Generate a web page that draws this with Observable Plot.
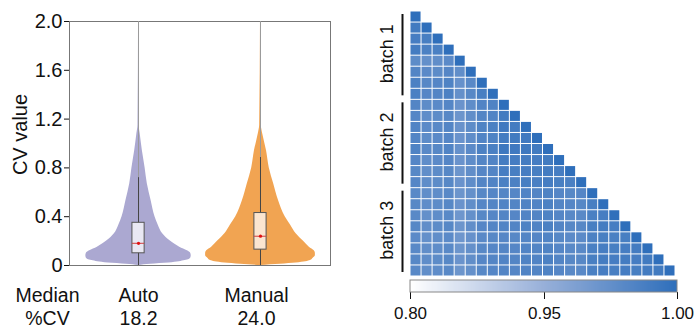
<!DOCTYPE html>
<html><head><meta charset="utf-8">
<script src="https://cdn.jsdelivr.net/npm/d3@7"></script>
<script src="https://cdn.jsdelivr.net/npm/@observablehq/plot@0.6"></script>
<style>
body{margin:0;background:#fff;}
#wrap{position:relative;width:698px;height:328px;overflow:hidden;font-family:"Liberation Sans",Arial,Helvetica,sans-serif;}
#wrap svg{position:absolute;overflow:visible;}
</style></head><body><div id="wrap"></div>
<script>
// ---------- Left panel: violin plots ----------
const groups = ["Auto", "Manual"];
const medianCV = ["18.2", "24.0"];
const cvGrid        = [0, 0.01, 0.02, 0.04, 0.06, 0.08, 0.10, 0.12, 0.15, 0.20, 0.26, 0.33, 0.40, 0.53, 0.67, 0.80, 0.94, 1.08, 1.15, 2.0];
const densityAuto   = [0, 0.22, 0.55, 0.85, 0.95, 0.96, 0.95, 0.89, 0.75, 0.58, 0.44, 0.36, 0.30, 0.23, 0.16, 0.12, 0.07, 0.03, 0.01, 0];
const densityManual = [0, 0.36, 0.65, 0.91, 0.96, 1.00, 1.00, 0.98, 0.89, 0.78, 0.65, 0.55, 0.45, 0.33, 0.24, 0.16, 0.11, 0.04, 0.015, 0];
const q1 = [0.10, 0.13];
const medians = [0.182, 0.24];
const q3 = [0.35, 0.43];
const whiskerLow = [0, 0];
const whiskerHigh = [0.72, 0.885];
const yMax = [2.0, 2.0];
const yTicks = [0, 0.4, 0.8, 1.2, 1.6, 2.0];

// ---------- Right panel: correlation heatmap ----------
const batchNames = ["batch 1", "batch 2", "batch 3"];
const batchStart = [0, 8, 16];
const batchEnd = [8, 16, 24];
const corr = [
 [1],
 [0.991, 1],
 [0.989, 0.988, 1],
 [0.990, 0.986, 0.987, 1],
 [0.978, 0.975, 0.976, 0.979, 1],
 [0.983, 0.979, 0.978, 0.982, 0.976, 1],
 [0.986, 0.981, 0.982, 0.985, 0.974, 0.980, 1],
 [0.987, 0.982, 0.983, 0.986, 0.975, 0.981, 0.988, 1],
 [0.983, 0.978, 0.979, 0.982, 0.972, 0.977, 0.984, 0.985, 1],
 [0.982, 0.977, 0.978, 0.981, 0.971, 0.976, 0.983, 0.984, 0.991, 1],
 [0.984, 0.979, 0.980, 0.983, 0.973, 0.978, 0.985, 0.986, 0.992, 0.990, 1],
 [0.983, 0.978, 0.979, 0.982, 0.972, 0.977, 0.984, 0.985, 0.990, 0.991, 0.992, 1],
 [0.985, 0.980, 0.981, 0.984, 0.974, 0.979, 0.986, 0.987, 0.993, 0.992, 0.993, 0.991, 1],
 [0.982, 0.977, 0.979, 0.982, 0.972, 0.977, 0.983, 0.984, 0.990, 0.989, 0.990, 0.989, 0.991, 1],
 [0.981, 0.976, 0.978, 0.981, 0.971, 0.976, 0.982, 0.983, 0.989, 0.988, 0.989, 0.988, 0.990, 0.989, 1],
 [0.982, 0.977, 0.978, 0.981, 0.972, 0.977, 0.983, 0.984, 0.987, 0.986, 0.988, 0.987, 0.989, 0.988, 0.987, 1],
 [0.980, 0.976, 0.977, 0.980, 0.971, 0.975, 0.981, 0.982, 0.983, 0.982, 0.984, 0.983, 0.985, 0.982, 0.981, 0.982, 1],
 [0.981, 0.977, 0.978, 0.981, 0.972, 0.976, 0.982, 0.983, 0.984, 0.983, 0.985, 0.984, 0.986, 0.983, 0.982, 0.981, 0.988, 1],
 [0.980, 0.975, 0.977, 0.980, 0.970, 0.975, 0.981, 0.982, 0.983, 0.982, 0.984, 0.983, 0.985, 0.982, 0.980, 0.980, 0.987, 0.989, 1],
 [0.981, 0.976, 0.978, 0.981, 0.971, 0.976, 0.982, 0.983, 0.984, 0.983, 0.985, 0.984, 0.986, 0.983, 0.981, 0.981, 0.988, 0.990, 0.989, 1],
 [0.979, 0.975, 0.976, 0.979, 0.970, 0.974, 0.980, 0.981, 0.982, 0.981, 0.983, 0.982, 0.984, 0.981, 0.979, 0.979, 0.986, 0.988, 0.987, 0.988, 1],
 [0.980, 0.976, 0.977, 0.980, 0.971, 0.975, 0.981, 0.982, 0.983, 0.982, 0.984, 0.983, 0.985, 0.982, 0.980, 0.980, 0.987, 0.989, 0.988, 0.989, 0.990, 1],
 [0.981, 0.977, 0.978, 0.981, 0.972, 0.976, 0.982, 0.983, 0.984, 0.983, 0.985, 0.984, 0.986, 0.983, 0.981, 0.981, 0.988, 0.990, 0.989, 0.990, 0.989, 0.991, 1],
 [0.980, 0.976, 0.977, 0.980, 0.971, 0.975, 0.981, 0.982, 0.983, 0.982, 0.984, 0.983, 0.985, 0.982, 0.980, 0.980, 0.987, 0.989, 0.988, 0.989, 0.988, 0.990, 0.991, 1]
];
const colorDomain = [0.80, 0.95, 1.00];
const colorTicks = [0.80, 0.95, 1.00];

// ---------- styles ----------
const FONT = '"Liberation Sans", Arial, Helvetica, sans-serif';
const violinFill = ["#aba8d1", "#f1a452"];
const boxFill = ["#e9e8f3", "#fbe5d0"];
const colorRange = ["#ffffff", "#98b0d9", "#2f6fbb"];
const halfWidth = 0.45;  // max violin half-width in x units
const boxHalf = 0.05;

const wrap = document.getElementById("wrap");

// ---------- build left panel ----------
const densities = [densityAuto, densityManual];
const stats = groups.map((g, i) => ({
  i, name: g, label: g + "\n" + medianCV[i],
  q1: q1[i], med: medians[i], q3: q3[i], lo: whiskerLow[i], hi: whiskerHigh[i], top: yMax[i]
}));
const violinMarks = groups.map((g, i) =>
  Plot.areaX(cvGrid.map((v, k) => ({v, d: densities[i][k]})), {
    y: "v",
    x1: r => i - r.d * halfWidth,
    x2: r => i + r.d * halfWidth,
    fill: violinFill[i],
    curve: "monotone-y"
  })
);
const labelStyle = {frameAnchor: "bottom", textAnchor: "middle", lineAnchor: "top", dy: 21, lineHeight: 1.15, fontSize: 19.5, fill: "#111"};

const left = Plot.plot({
  width: 350, height: 328,
  marginLeft: 69, marginRight: 20, marginTop: 21, marginBottom: 63,
  style: {fontSize: "20px", fontFamily: FONT, color: "#111", background: "transparent"},
  x: {domain: [-0.566, 1.574], axis: null},
  y: {domain: [0, 2], ticks: yTicks, tickFormat: d => d === 0 ? "0" : d.toFixed(1), tickSize: 5, tickPadding: 2, line: true, label: null},
  marks: [
    Plot.frame({stroke: "#777"}),
    ...violinMarks,
    Plot.ruleX(stats, {x: "i", y1: "lo", y2: "top", stroke: "#9a9a9a", strokeWidth: 1}),
    Plot.ruleX(stats, {x: "i", y1: "lo", y2: "hi", stroke: "#444", strokeWidth: 1}),
    Plot.rect(stats, {x1: d => d.i - boxHalf, x2: d => d.i + boxHalf, y1: "q1", y2: "q3", fill: d => boxFill[d.i], stroke: "#555", strokeWidth: 1}),
    Plot.ruleY(stats, {y: "med", x1: d => d.i - boxHalf, x2: d => d.i + boxHalf, stroke: "#d04040", strokeWidth: 1}),
    Plot.dot(stats, {x: "i", y: "med", r: 1.6, fill: "#e01010", stroke: null}),
    Plot.text(stats, {...labelStyle, filter: d => d.i === 0, x: "i", text: "label"}),
    Plot.text(stats, {...labelStyle, filter: d => d.i === 1, x: "i", text: "label", dx: -4}),
    Plot.text(["Median\n%CV"], {...labelStyle, frameAnchor: "bottom-left", text: d => d, dx: -22}),
    Plot.text(["CV value"], {frameAnchor: "left", text: d => d, textAnchor: "middle", rotate: -90, dx: -49, dy: -9, fontSize: 20, fill: "#111"})
  ]
});
left.style.left = "0px"; left.style.top = "0px";
wrap.appendChild(left);

// ---------- build right panel ----------
const cells = corr.flatMap((row, i) => row.map((v, j) => ({i, j, v})));
const batches = batchNames.map((name, k) => ({name, s: batchStart[k], e: batchEnd[k]}));

const heat = Plot.plot({
  width: 348, height: 276,
  marginLeft: 60, marginRight: 23, marginTop: 11, marginBottom: 0,
  style: {fontSize: "18px", fontFamily: FONT, color: "#111", background: "transparent"},
  x: {domain: [0, 24], axis: null},
  y: {domain: [0, 24], reverse: true, axis: null},
  color: {type: "linear", domain: colorDomain, range: colorRange, label: null},
  marks: [
    Plot.rect(cells, {x1: "j", x2: d => d.j + 1, y1: "i", y2: d => d.i + 1, fill: "v", inset: 0.5}),
    Plot.ruleX(batches, {x: () => 0, y1: "s", y2: "e", dx: -8, insetTop: 3, insetBottom: 4, stroke: "#111", strokeWidth: 2}),
    Plot.text(batches, {x: () => 0, y: d => (d.s + d.e) / 2, text: "name", textAnchor: "middle", rotate: -90, dx: -23, dy: -2, fontSize: 18, fill: "#111"})
  ]
});
heat.style.left = "350px"; heat.style.top = "0px";
wrap.appendChild(heat);

const leg = heat.legend("color", {
  width: 348, marginLeft: 60, marginRight: 21, marginTop: 18, marginBottom: 40, height: 18 + 12 + 40,
  ticks: colorTicks, tickFormat: ".2f", tickSize: 7, label: null,
  style: {fontSize: "17px", fontFamily: FONT, color: "#111", background: "transparent"}
});
const legSvg = leg.tagName.toLowerCase() === "svg" ? leg : leg.querySelector("svg");
const L = d3.select(legSvg);
L.selectAll(".tick line").attr("y1", 0).attr("y2", 7);
L.selectAll(".tick text").attr("y", 15);
L.append("rect").attr("x", 60).attr("y", 18).attr("width", 348 - 60 - 21).attr("height", 12)
  .attr("fill", "none").attr("stroke", "#888").attr("stroke-width", 1);
leg.style.position = "absolute";
leg.style.left = "350px"; leg.style.top = "262px";
wrap.appendChild(leg);
</script>
</body></html>
